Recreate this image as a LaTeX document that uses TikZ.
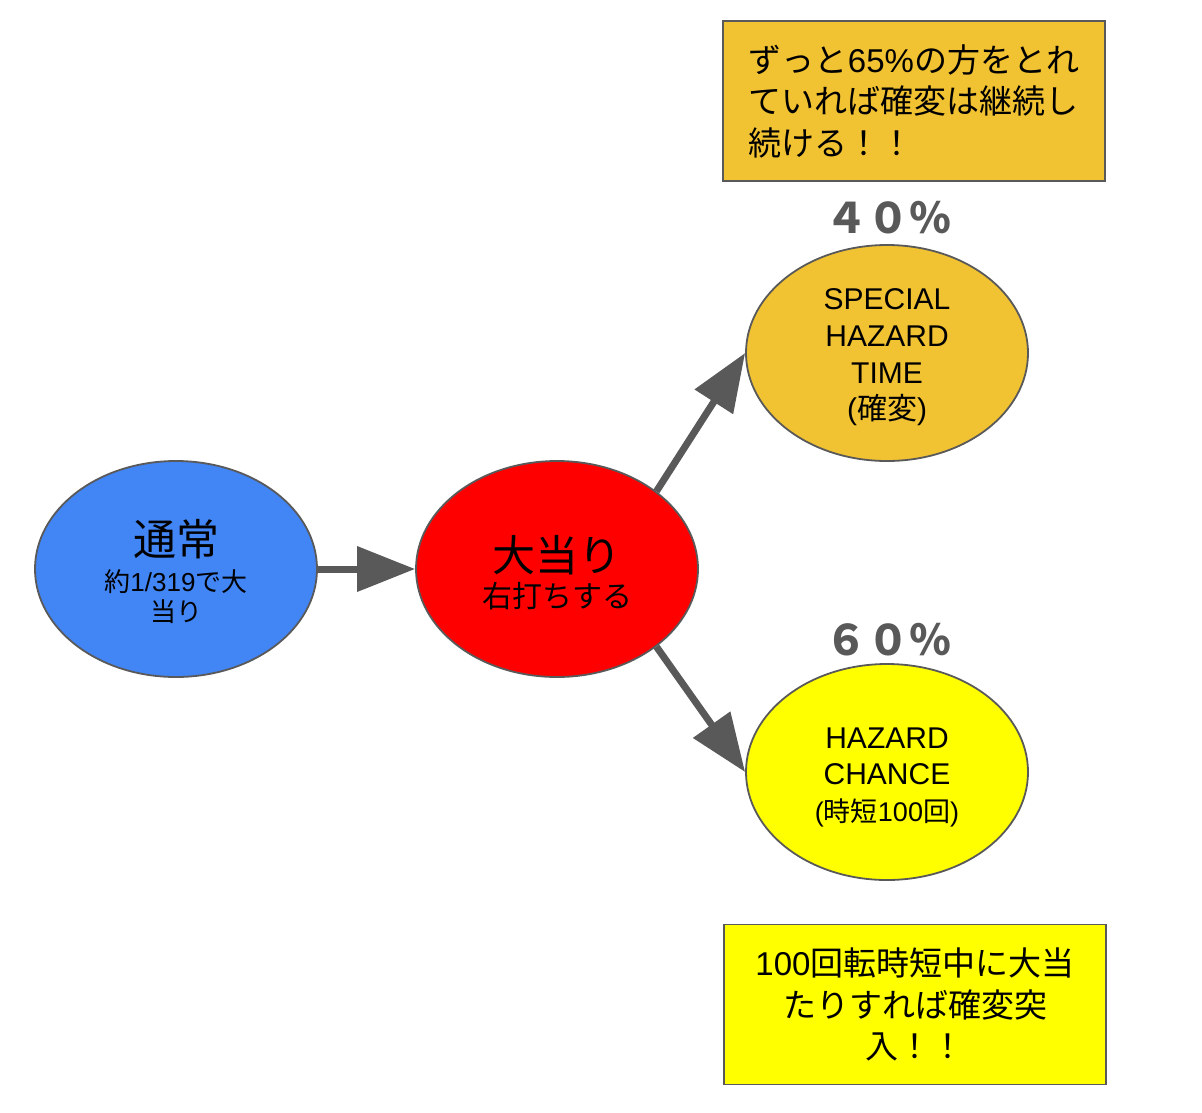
\documentclass[tikz,border=0pt]{standalone}
\usepackage{fontspec}
\setmainfont{Liberation Sans}
\newfontfamily\cjk{Noto Sans CJK JP}
\usetikzlibrary{shapes.geometric,arrows.meta}
\definecolor{edgegray}{HTML}{595959}
\definecolor{nblue}{HTML}{4285F4}
\definecolor{nred}{HTML}{FF0000}
\definecolor{norange}{HTML}{F1C232}
\definecolor{nyellow}{HTML}{FFFF00}
\tikzset{
  ell/.style={ellipse, draw=edgegray, line width=1.8pt, minimum width=282pt, minimum height=216pt, inner sep=0pt, align=center, text=black},
  notebox/.style={rectangle, draw=edgegray, line width=1.8pt, minimum width=382pt, minimum height=160pt, inner sep=0pt, text=black, font=\fontsize{33}{41.5}\selectfont},
  bigarrow/.style={draw=edgegray, line width=7pt, -{Triangle[length=58pt,width=44pt]}},
  pct/.style={text=edgegray, font=\fontsize{42}{44}\selectfont\cjk\bfseries, inner sep=0pt}
}
\begin{document}
\begin{tikzpicture}[x=1pt,y=-1pt]
\useasboundingbox (0,0) rectangle (1202,1112);
\node[ell, fill=nblue, font=\fontsize{26}{30}\selectfont] (b) at (176,569)
  {\rule{0pt}{42pt}{\fontsize{43}{43}\selectfont\cjk 通常}\\[6pt]{\cjk 約}1/319{\cjk で大}\\{\cjk 当り}};
\node[ell, fill=nred, font=\fontsize{30}{34}\selectfont] (r) at (557,569)
  {\rule{0pt}{43pt}{\fontsize{43}{43}\selectfont\cjk 大当り}\\[2pt]{\cjk 右打ちする}};
\node[ell, fill=norange, font=\fontsize{30}{36.7}\selectfont] (o) at (887,353)
  {\rule{0pt}{29.5pt}SPECIAL\\HAZARD\\TIME\\({\cjk 確変})};
\node[ell, fill=nyellow, font=\fontsize{30}{36.5}\selectfont] (y) at (887,772)
  {\rule{0pt}{31.5pt}HAZARD\\CHANCE\\{\fontsize{27}{27}\selectfont({\cjk 時短}100{\cjk 回})}};
\node[notebox, fill=norange, align=left] (t) at (914,101)
  {{\cjk ずっと}65\%{\cjk の方をとれ}\\{\cjk ていれば確変は継続し}\\{\cjk 続ける！！}};
\node[notebox, fill=nyellow, align=center] (d) at (915,1004.5)
  {100{\cjk 回転時短中に大当}\\{\cjk たりすれば確変突}\\{\cjk 入！！}};
\node[pct] (p40) at (888,218) {４０％};
\node[pct] (p60) at (888,640) {６０％};
\draw[bigarrow] (b.east) -- (r.west);
\draw[bigarrow] (r.38) -- (o.west);
\draw[bigarrow] (r.-38) -- (y.west);
\end{tikzpicture}
\end{document}
